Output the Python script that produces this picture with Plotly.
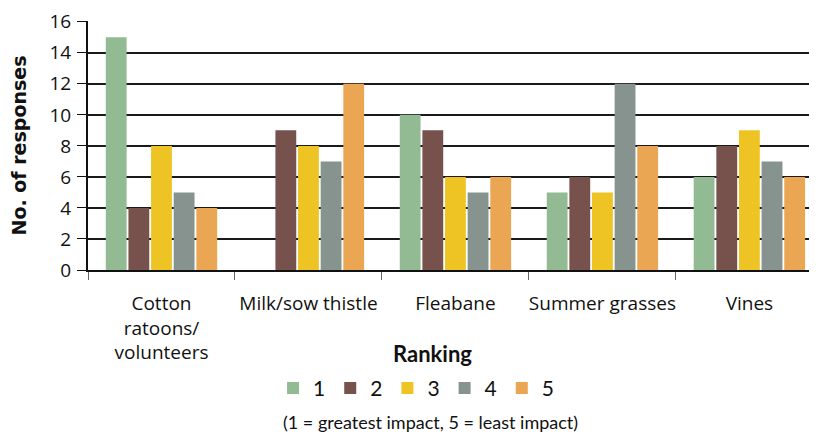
import plotly.graph_objects as go

# weed categories and ranking counts
categories = ["Cotton<br>ratoons/<br>volunteers", "Milk/sow thistle", "Fleabane",
              "Summer grasses", "Vines"]
rankings = ["1", "2", "3", "4", "5"]
rank_1 = [15, 0, 10, 5, 6]
rank_2 = [4, 9, 9, 6, 8]
rank_3 = [8, 8, 6, 5, 9]
rank_4 = [5, 7, 5, 12, 7]
rank_5 = [4, 12, 6, 8, 6]
y_ticks = [0, 2, 4, 6, 8, 10, 12, 14, 16]

series = [rank_1, rank_2, rank_3, rank_4, rank_5]
colors = ["#92bb94", "#77514c", "#eec424", "#87938f", "#eba654"]

FONT = "'Open Sans', Lato, sans-serif"

fig = go.Figure()
for name, vals, col in zip(rankings, series, colors):
    fig.add_trace(go.Bar(x=categories, y=vals, name=name, marker_color=col,
                         marker_line_width=0))

# page body has an 8px margin, so the figure is a bit smaller than the window
fig.update_layout(
    width=809, height=430,
    margin=dict(l=80, r=0, t=9, b=168),
    plot_bgcolor="white", paper_bgcolor="white",
    barmode="group", bargap=0.23, bargroupgap=0.08,
    font=dict(family=FONT, color="#111111", size=19),
    showlegend=True,
    legend=dict(orientation="h", x=0.45, xanchor="center", y=-0.475, yanchor="middle",
                font=dict(size=21, family="Lato"), itemwidth=30,
                traceorder="normal", itemclick=False),
    annotations=[
        dict(text="<b>Ranking</b>", x=0.472, xref="paper", y=-0.335, yref="paper",
             yanchor="middle", showarrow=False, font=dict(size=22, family="Lato")),
        dict(text="(1 = greatest impact, 5 = least impact)", x=0.47, xref="paper",
             y=-0.61, yref="paper", yanchor="middle", showarrow=False,
             font=dict(size=18, family="Lato")),
    ],
)

fig.update_xaxes(
    range=[-0.5, 4.46], showline=True, linecolor="#111111", linewidth=2,
    ticks="outside", tickson="boundaries", ticklen=8, tickcolor="#666666",
    tickfont=dict(size=19), ticklabelstandoff=15, tickangle=0, showgrid=False,
)
fig.update_yaxes(
    range=[0, 16.05], tickvals=y_ticks, showline=True, linecolor="#111111", linewidth=2,
    ticks="outside", ticklen=9, tickcolor="#111111", tickfont=dict(size=19),
    ticklabelstandoff=2, ticklabeloverflow="allow",
    showgrid=True, gridcolor="#1a1a1a", gridwidth=1.8, zeroline=False,
    title=dict(text="<b>No. of responses</b>", standoff=20,
               font=dict(size=19, family="'DejaVu Sans'")),
)

fig.write_html("out.html")
